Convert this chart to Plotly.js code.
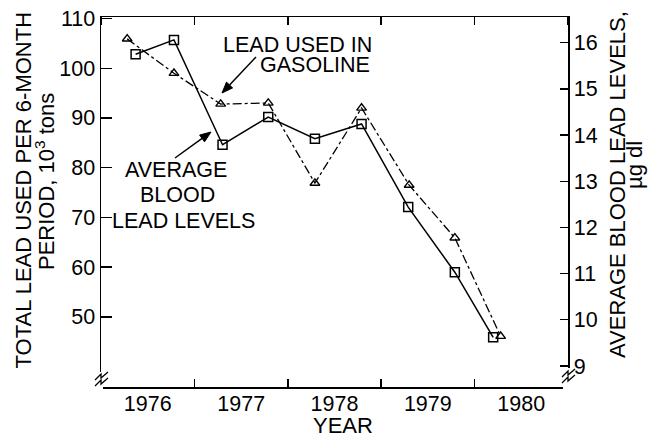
<!DOCTYPE html>
<html>
<head>
<meta charset="utf-8">
<script src="https://cdn.plot.ly/plotly-3.0.1.min.js"></script>
<style>html,body{margin:0;padding:0;background:#fff;}#chart{width:651px;height:436px;}</style>
</head>
<body>
<div id="chart"></div>
<script>
// Lead used in gasoline (10^3 tons per 6-month period), left axis
const gasYears = [1976.28, 1976.78, 1977.28, 1977.79, 1978.29, 1978.79, 1979.30, 1979.79, 1980.28];
const gasLead  = [105.9, 99.0, 92.8, 93.0, 76.9, 92.0, 76.5, 65.9, 46.1];
// Average blood lead levels (µg/dl), right axis
const bloodYears = [1976.37, 1976.78, 1977.30, 1977.79, 1978.29, 1978.79, 1979.29, 1979.79, 1980.20];
const bloodLead  = [15.75, 16.06, 13.79, 14.39, 13.92, 14.24, 12.44, 11.03, 9.62];
const leftTicks = [50, 60, 70, 80, 90, 100, 110];
const rightTicks = [9, 10, 11, 12, 13, 14, 15, 16];

function toMs(y){
  const yr = Math.floor(y);
  const start = Date.UTC(yr,0,1), end = Date.UTC(yr+1,0,1);
  return start + (y-yr)*(end-start);
}

// plot area in pixels
const L=101, R=568, T=17, B=387;
const px = x => (x-L)/(R-L);
const py = y => (B-y)/(B-T);

const FONT = 'Liberation Sans, Arial, Helvetica, sans-serif';
const AF = 21.5, TF = 22;

const traces = [
  {x: gasYears.map(toMs), y: gasLead, type:'scatter', mode:'lines+markers', yaxis:'y',
   line:{color:'#000', width:1.3, dash:'dashdot'},
   marker:{symbol:'triangle-up-open', size:8.5, color:'#000', line:{width:1.4}}},
  {x: bloodYears.map(toMs), y: bloodLead, type:'scatter', mode:'lines+markers', yaxis:'y2',
   line:{color:'#000', width:1.5},
   marker:{symbol:'square-open', size:9, color:'#000', line:{width:1.5}}}
];

const ann = (text, x, y, opts) => Object.assign({text, x:px(x), y:py(y), xref:'paper', yref:'paper',
  showarrow:false, borderpad:0, font:{family:FONT, size:AF, color:'#000'}, xanchor:'center', yanchor:'middle'}, opts||{});
const tfont = {family:FONT, size:TF, color:'#000'};

const annotations = [
  ann('LEAD USED IN', 373, 44.5, {xanchor:'right'}),
  ann('GASOLINE', 371, 65, {xanchor:'right'}),
  ann('AVERAGE', 176, 169.5),
  ann('BLOOD', 177.5, 195.5),
  ann('LEAD LEVELS', 183.5, 220.5),
  ann('TOTAL LEAD USED PER 6-MONTH', 22.5, 190, {textangle:-90, font:tfont}),
  ann('PERIOD, 10<sup>3</sup> tons', 45, 182, {textangle:-90, font:tfont}),
  ann('AVERAGE BLOOD LEAD LEVELS,', 617, 185, {textangle:-90, font:tfont}),
  ann('µg dl', 634, 165, {textangle:-90, font:tfont}),
  ann('YEAR', 343, 425.5, {font:tfont})
];

// arrows drawn as shapes (pixel coordinates of tail and head)
function arrowShapes(x0,y0,x1,y1){
  const dx=x1-x0, dy=y1-y0, len=Math.hypot(dx,dy), ux=dx/len, uy=dy/len;
  const hl=11, hw=4.2;
  const bx=x1-hl*ux, by=y1-hl*uy, nx=-uy, ny=ux;
  return [
    {type:'line', xref:'paper', yref:'paper', x0:px(x0), y0:py(y0), x1:px(bx), y1:py(by), line:{color:'#000', width:1.5}, layer:'above'},
    {type:'path', xref:'paper', yref:'paper', layer:'above', fillcolor:'#000', line:{color:'#000', width:1},
     path:`M ${px(x1)} ${py(y1)} L ${px(bx+hw*nx)} ${py(by+hw*ny)} L ${px(bx-hw*nx)} ${py(by-hw*ny)} Z`}
  ];
}

const zig = (x0,y0) => `M ${px(x0)} ${py(y0+8)} L ${px(x0+6)} ${py(y0+2)} L ${px(x0+6)} ${py(y0+6)} L ${px(x0+13)} ${py(y0)}`;
const shapes = [
  {type:'rect', xref:'paper', yref:'paper', x0:px(90), x1:px(103), y0:py(394), y1:py(372), fillcolor:'#fff', line:{width:0}, layer:'above'},
  {type:'rect', xref:'paper', yref:'paper', x0:px(563), x1:px(572), y0:py(394), y1:py(368), fillcolor:'#fff', line:{width:0}, layer:'above'},
  {type:'path', xref:'paper', yref:'paper', path:zig(95,372), line:{color:'#000', width:1.3}, layer:'above'},
  {type:'path', xref:'paper', yref:'paper', path:zig(95,378), line:{color:'#000', width:1.3}, layer:'above'},
  {type:'path', xref:'paper', yref:'paper', path:zig(562,369), line:{color:'#000', width:1.3}, layer:'above'},
  {type:'path', xref:'paper', yref:'paper', path:zig(562,375), line:{color:'#000', width:1.3}, layer:'above'},
  ...arrowShapes(256, 57, 222, 93),
  ...arrowShapes(175, 158, 211, 132)
];

const layout = {
  width:651, height:436,
  margin:{l:L, r:651-R, t:T, b:436-B, pad:0},
  paper_bgcolor:'#fff', plot_bgcolor:'#fff',
  showlegend:false,
  font:{family:FONT, size:21, color:'#000'},
  xaxis:{type:'date', range:['1976-01-01','1981-01-01'], tick0:'1976-01-01', dtick:'M12',
    ticklabelmode:'period', tickformat:'%Y', ticks:'inside', ticklen:8, tickwidth:1.4, tickcolor:'#000',
    ticklabelstandoff:-3,
    showline:true, linecolor:'#000', linewidth:1.5, mirror:'ticks', showgrid:false, zeroline:false,
    tickfont:{family:FONT, size:21.5, color:'#000'}},
  yaxis:{range:[35.9,110.3], tickvals:leftTicks, ticks:'inside', ticklen:11, tickwidth:1.4, tickcolor:'#000',
    showline:true, linecolor:'#000', linewidth:1.5, showgrid:false, zeroline:false,
    tickfont:{family:FONT, size:21.5, color:'#000'}},
  yaxis2:{range:[8.545,16.556], tickvals:rightTicks, overlaying:'y', side:'right', ticks:'inside', ticklen:8,
    tickwidth:1.4, tickcolor:'#000', showline:true, linecolor:'#000', linewidth:1.5, showgrid:false, zeroline:false,
    tickfont:{family:FONT, size:21.5, color:'#000'}},
  annotations, shapes
};

Plotly.newPlot('chart', traces, layout, {staticPlot:true, displayModeBar:false});
</script>
</body>
</html>
